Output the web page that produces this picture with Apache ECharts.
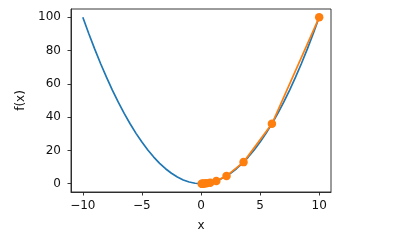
<!DOCTYPE html>
<html>
<head>
<meta charset="utf-8">
<script src="https://cdn.jsdelivr.net/npm/echarts@6/dist/echarts.min.js"></script>
<style>html,body{margin:0;padding:0;background:#fff}#c{width:404px;height:243px}</style>
</head>
<body>
<div id="c"></div>
<script>
const curveX = [-10,-9.5,-9,-8.5,-8,-7.5,-7,-6.5,-6,-5.5,-5,-4.5,-4,-3.5,-3,-2.5,-2,-1.5,-1,-0.5,0,0.5,1,1.5,2,2.5,3,3.5,4,4.5,5,5.5,6,6.5,7,7.5,8,8.5,9,9.5,10];
const curveY = [100,90.25,81,72.25,64,56.25,49,42.25,36,30.25,25,20.25,16,12.25,9,6.25,4,2.25,1,0.25,0,0.25,1,2.25,4,6.25,9,12.25,16,20.25,25,30.25,36,42.25,49,56.25,64,72.25,81,90.25,100];
const stepX = [10,6,3.6,2.16,1.296,0.778,0.467,0.28,0.168,0.101,0.06];
const stepY = [100,36,12.96,4.67,1.68,0.605,0.218,0.078,0.028,0.01,0.004];
const xTicks = [-10,-5,0,5,10];
const yTicks = [0,20,40,60,80,100];

const font = 'DejaVu Sans';
const fmt = v => String(v).replace('-', '\u2212');
const chart = echarts.init(document.getElementById('c'), null, {renderer:'canvas'});
chart.setOption({
  animation: false,
  grid: {left:71, right:73, top:9, bottom:51, show:true, borderColor:'#222', borderWidth:0.9, backgroundColor:'transparent'},
  xAxis: {
    type:'value', min:-11, max:11,
    name:'x', nameLocation:'middle', nameGap:28,
    nameTextStyle:{fontFamily:font, fontSize:12, color:'#111'},
    axisLine:{show:true, onZero:false, lineStyle:{color:'#222', width:0.9}},
    axisTick:{show:true, customValues:xTicks, length:3.5, lineStyle:{color:'#222', width:0.9}},
    axisLabel:{customValues:xTicks, formatter:fmt, margin:8, fontFamily:font, fontSize:12, color:'#111'},
    splitLine:{show:false}
  },
  yAxis: {
    type:'value', min:-5, max:105,
    name:'f(x)', nameLocation:'middle', nameGap:38, nameRotate:90,
    nameTextStyle:{fontFamily:font, fontSize:12, color:'#111'},
    axisLine:{show:true, onZero:false, lineStyle:{color:'#222', width:0.9}},
    axisTick:{show:true, customValues:yTicks, length:3.5, lineStyle:{color:'#222', width:0.9}},
    axisLabel:{customValues:yTicks, formatter:fmt, margin:10, fontFamily:font, fontSize:12, color:'#111'},
    splitLine:{show:false}
  },
  series: [
    {type:'line', data:curveX.map((x,i)=>[x,curveY[i]]), showSymbol:false, symbol:'none',
     lineStyle:{color:'#1f77b4', width:1.7}, z:2},
    {type:'line', data:stepX.map((x,i)=>[x,stepY[i]]), symbol:'circle', symbolSize:8.5, showSymbol:true,
     itemStyle:{color:'#ff7f0e'}, lineStyle:{color:'#ff7f0e', width:1.7}, z:3}
  ]
});
</script>
</body>
</html>
